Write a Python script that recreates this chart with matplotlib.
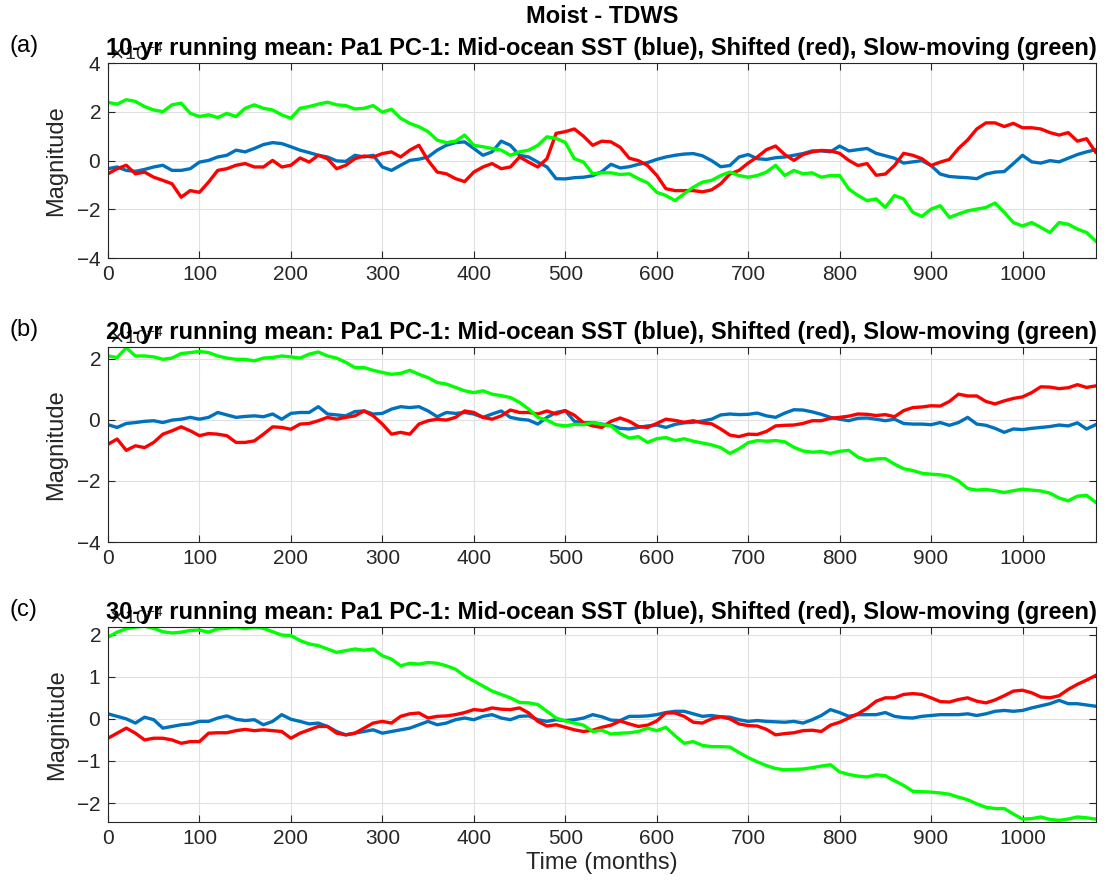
import numpy as np
import matplotlib
matplotlib.use("Agg")
import matplotlib.pyplot as plt
from matplotlib.ticker import MultipleLocator

plt.rcParams['font.family'] = ['Liberation Sans', 'DejaVu Sans']
plt.rcParams['axes.unicode_minus'] = False

# time axis (months), values read every 10 months
months = np.arange(0, 1081, 10)

# magnitudes in units of 1e-4
blue_10 = [-0.33, -0.26, -0.40, -0.44, -0.36, -0.26, -0.19, -0.40, -0.40, -0.33,
           -0.06, 0.01, 0.15, 0.22, 0.43, 0.36, 0.50, 0.66, 0.74, 0.70,
           0.57, 0.43, 0.33, 0.22, 0.15, -0.01, -0.03, 0.22, 0.15, 0.22,
           -0.26, -0.40, -0.19, 0.01, 0.06, 0.15, 0.43, 0.63, 0.74, 0.77,
           0.50, 0.22, 0.36, 0.80, 0.63, 0.22, 0.15, -0.06, -0.26, -0.74,
           -0.75, -0.70, -0.68, -0.62, -0.45, -0.15, -0.30, -0.25, -0.15, -0.08,
           0.05, 0.15, 0.22, 0.27, 0.29, 0.20, 0.00, -0.25, -0.20, 0.15,
           0.25, 0.08, 0.05, 0.12, 0.15, 0.22, 0.29, 0.40, 0.40, 0.36,
           0.60, 0.40, 0.45, 0.50, 0.30, 0.20, 0.10, -0.10, -0.05, 0.00,
           -0.20, -0.55, -0.65, -0.68, -0.70, -0.74, -0.55, -0.47, -0.45, -0.12,
           0.22, -0.05, -0.10, 0.00, -0.05, 0.10, 0.25, 0.36, 0.45]
red_10 = [-0.54, -0.33, -0.19, -0.54, -0.47, -0.68, -0.81, -0.95, -1.50, -1.23,
          -1.30, -0.88, -0.40, -0.33, -0.19, -0.12, -0.26, -0.26, 0.01, -0.26,
          -0.19, 0.11, -0.06, 0.22, 0.08, -0.33, -0.19, 0.08, 0.19, 0.15,
          0.29, 0.36, 0.15, 0.43, 0.63, 0.01, -0.47, -0.54, -0.74, -0.86,
          -0.47, -0.26, -0.12, -0.33, -0.26, 0.15, -0.06, -0.26, 0.08, 1.12,
          1.19, 1.30, 1.00, 0.63, 0.80, 0.77, 0.55, 0.10, 0.00, -0.20,
          -0.60, -1.15, -1.23, -1.23, -1.23, -1.28, -1.20, -0.95, -0.55, -0.40,
          -0.10, 0.15, 0.45, 0.60, 0.25, 0.01, 0.25, 0.36, 0.42, 0.40,
          0.30, 0.01, -0.20, -0.12, -0.60, -0.55, -0.20, 0.30, 0.22, 0.08,
          -0.20, -0.06, 0.05, 0.50, 0.85, 1.30, 1.55, 1.55, 1.40, 1.53,
          1.35, 1.35, 1.30, 1.15, 1.05, 1.15, 0.80, 0.90, 0.35]
green_10 = [2.39, 2.32, 2.50, 2.43, 2.22, 2.08, 2.01, 2.29, 2.36, 1.94,
            1.81, 1.88, 1.77, 1.94, 1.81, 2.15, 2.29, 2.15, 2.08, 1.88,
            1.74, 2.15, 2.22, 2.32, 2.40, 2.29, 2.26, 2.12, 2.15, 2.26,
            1.99, 2.11, 1.74, 1.53, 1.39, 1.19, 0.84, 0.74, 0.80, 1.05,
            0.63, 0.57, 0.50, 0.43, 0.22, 0.36, 0.43, 0.63, 0.98, 0.91,
            0.75, 0.08, -0.06, -0.54, -0.50, -0.50, -0.57, -0.54, -0.74, -0.91,
            -1.30, -1.43, -1.64, -1.36, -1.09, -0.88, -0.81, -0.61, -0.47, -0.61,
            -0.68, -0.61, -0.47, -0.19, -0.61, -0.40, -0.54, -0.50, -0.68, -0.61,
            -0.61, -1.16, -1.43, -1.64, -1.57, -1.92, -1.43, -1.57, -2.12, -2.29,
            -1.99, -1.85, -2.33, -2.19, -2.06, -1.99, -1.92, -1.74, -2.12, -2.54,
            -2.68, -2.54, -2.74, -2.95, -2.54, -2.61, -2.81, -2.95, -3.30]

blue_20 = [-0.16, -0.25, -0.12, -0.09, -0.05, -0.03, -0.09, -0.01, 0.02, 0.08,
           0.02, 0.08, 0.24, 0.16, 0.08, 0.11, 0.13, 0.10, 0.19, 0.02,
           0.21, 0.24, 0.24, 0.43, 0.19, 0.16, 0.13, 0.27, 0.29, 0.19,
           0.21, 0.35, 0.43, 0.40, 0.43, 0.29, 0.10, 0.24, 0.21, 0.24,
           0.19, 0.08, 0.19, 0.29, 0.08, 0.02, -0.01, -0.14, 0.08, 0.24,
           0.30, -0.05, -0.10, -0.09, -0.14, -0.18, -0.28, -0.30, -0.25, -0.20,
           -0.17, -0.25, -0.15, -0.10, -0.08, -0.04, 0.02, 0.16, 0.19, 0.17,
           0.18, 0.22, 0.13, 0.08, 0.22, 0.33, 0.32, 0.26, 0.18, 0.08,
           0.02, -0.03, 0.05, 0.06, 0.02, -0.03, 0.02, -0.12, -0.14, -0.14,
           -0.16, -0.09, -0.18, -0.09, 0.08, -0.14, -0.18, -0.28, -0.41, -0.30,
           -0.32, -0.28, -0.25, -0.22, -0.17, -0.20, -0.10, -0.30, -0.16]
red_20 = [-0.80, -0.63, -1.00, -0.85, -0.91, -0.74, -0.47, -0.36, -0.23, -0.36,
          -0.52, -0.45, -0.47, -0.52, -0.74, -0.74, -0.69, -0.47, -0.23, -0.25,
          -0.31, -0.14, -0.12, -0.03, 0.08, 0.02, 0.08, 0.13, 0.29, 0.13,
          -0.14, -0.47, -0.41, -0.47, -0.14, -0.03, 0.02, -0.01, 0.08, 0.29,
          0.24, 0.08, 0.02, 0.13, 0.32, 0.24, 0.24, 0.19, 0.29, 0.19,
          0.30, 0.15, -0.10, -0.20, -0.25, -0.05, 0.06, -0.05, -0.22, -0.25,
          -0.12, 0.02, -0.02, -0.08, -0.03, -0.10, -0.13, -0.30, -0.50, -0.55,
          -0.47, -0.48, -0.38, -0.20, -0.18, -0.17, -0.12, -0.03, -0.03, 0.05,
          0.08, 0.12, 0.19, 0.18, 0.14, 0.17, 0.10, 0.30, 0.40, 0.42,
          0.46, 0.45, 0.60, 0.84, 0.78, 0.78, 0.60, 0.52, 0.62, 0.70,
          0.75, 0.89, 1.08, 1.07, 1.02, 1.05, 1.15, 1.06, 1.11]
green_20 = [2.09, 2.04, 2.36, 2.09, 2.09, 2.06, 1.98, 2.02, 2.17, 2.20,
            2.24, 2.20, 2.09, 2.02, 1.98, 1.98, 1.93, 2.02, 2.04, 2.09,
            2.06, 2.02, 2.15, 2.22, 2.09, 2.02, 1.88, 1.71, 1.71, 1.62,
            1.55, 1.49, 1.52, 1.62, 1.49, 1.38, 1.22, 1.17, 1.06, 0.95,
            0.89, 0.95, 0.84, 0.79, 0.73, 0.57, 0.35, 0.08, -0.01, -0.16,
            -0.20, -0.15, -0.16, -0.09, -0.15, -0.20, -0.45, -0.60, -0.55, -0.74,
            -0.62, -0.58, -0.68, -0.62, -0.70, -0.76, -0.82, -0.91, -1.10, -0.95,
            -0.75, -0.68, -0.70, -0.68, -0.72, -0.90, -1.02, -1.06, -1.04, -1.10,
            -1.03, -1.00, -1.22, -1.33, -1.28, -1.27, -1.45, -1.60, -1.66, -1.75,
            -1.78, -1.80, -1.85, -2.00, -2.25, -2.30, -2.28, -2.32, -2.38, -2.32,
            -2.27, -2.30, -2.33, -2.40, -2.56, -2.65, -2.50, -2.47, -2.70]

blue_30 = [0.12, 0.06, 0.00, -0.10, 0.04, -0.02, -0.22, -0.18, -0.14, -0.12,
           -0.06, -0.06, 0.02, 0.07, -0.01, -0.04, -0.02, -0.14, -0.06, 0.10,
           -0.01, -0.06, -0.12, -0.10, -0.18, -0.30, -0.38, -0.34, -0.30, -0.26,
           -0.34, -0.30, -0.26, -0.22, -0.14, -0.06, -0.14, -0.10, -0.02, 0.02,
           -0.02, 0.06, 0.10, 0.02, -0.02, 0.06, 0.07, -0.02, -0.06, -0.02,
           -0.04, -0.02, 0.02, 0.10, 0.05, -0.03, -0.04, 0.06, 0.06, 0.07,
           0.10, 0.15, 0.18, 0.18, 0.12, 0.06, 0.08, 0.05, 0.04, -0.02,
           -0.06, -0.04, -0.06, -0.07, -0.08, -0.06, -0.10, -0.02, 0.08, 0.22,
           0.15, 0.06, 0.10, 0.10, 0.10, 0.15, 0.06, 0.03, 0.02, 0.06,
           0.08, 0.10, 0.10, 0.10, 0.12, 0.08, 0.12, 0.18, 0.20, 0.18,
           0.20, 0.26, 0.31, 0.36, 0.44, 0.36, 0.36, 0.33, 0.30]
red_30 = [-0.46, -0.34, -0.22, -0.34, -0.50, -0.46, -0.46, -0.50, -0.58, -0.54,
          -0.54, -0.34, -0.33, -0.33, -0.28, -0.25, -0.28, -0.26, -0.28, -0.30,
          -0.46, -0.34, -0.26, -0.18, -0.18, -0.34, -0.38, -0.34, -0.22, -0.10,
          -0.06, -0.10, 0.06, 0.12, 0.14, 0.02, 0.06, 0.07, 0.10, 0.15,
          0.22, 0.20, 0.26, 0.23, 0.22, 0.26, 0.14, -0.06, -0.17, -0.14,
          -0.20, -0.26, -0.30, -0.27, -0.20, -0.15, -0.05, -0.12, -0.18, -0.15,
          -0.05, 0.14, 0.14, 0.06, -0.08, -0.10, 0.00, 0.05, 0.00, -0.12,
          -0.16, -0.17, -0.25, -0.38, -0.35, -0.33, -0.28, -0.27, -0.30, -0.15,
          -0.08, 0.02, 0.12, 0.25, 0.42, 0.50, 0.50, 0.58, 0.60, 0.58,
          0.50, 0.41, 0.40, 0.46, 0.50, 0.42, 0.38, 0.45, 0.55, 0.66,
          0.68, 0.62, 0.52, 0.50, 0.55, 0.70, 0.82, 0.92, 1.03]
green_30 = [1.94, 2.06, 2.14, 2.18, 2.20, 2.15, 2.07, 2.04, 2.06, 2.10,
            2.11, 2.06, 2.14, 2.15, 2.18, 2.14, 2.18, 2.15, 2.07, 1.99,
            1.98, 1.86, 1.78, 1.74, 1.66, 1.58, 1.62, 1.66, 1.63, 1.66,
            1.50, 1.42, 1.26, 1.32, 1.30, 1.34, 1.32, 1.26, 1.18, 1.02,
            0.90, 0.78, 0.66, 0.58, 0.50, 0.39, 0.38, 0.34, 0.18, 0.02,
            -0.05, -0.10, -0.15, -0.30, -0.27, -0.36, -0.34, -0.33, -0.30, -0.22,
            -0.28, -0.20, -0.40, -0.58, -0.54, -0.63, -0.66, -0.66, -0.67, -0.80,
            -0.92, -1.02, -1.11, -1.18, -1.21, -1.20, -1.19, -1.16, -1.12, -1.09,
            -1.26, -1.32, -1.36, -1.38, -1.33, -1.35, -1.47, -1.58, -1.72, -1.73,
            -1.74, -1.76, -1.79, -1.86, -1.92, -2.02, -2.10, -2.13, -2.13, -2.26,
            -2.38, -2.37, -2.33, -2.39, -2.41, -2.38, -2.33, -2.35, -2.38]

SCALE = 1e-4
windows = ['10', '20', '30']
panel_tags = ['(a)', '(b)', '(c)']
series = [(blue_10, red_10, green_10), (blue_20, red_20, green_20), (blue_30, red_30, green_30)]
ylims = [(-4, 4), (-4, 2.38), (-2.45, 2.18)]
ysteps = [2, 2, 1]

fig = plt.figure(figsize=(11.11, 8.9), dpi=100)
bottoms = [0.710, 0.391, 0.0764]
for i in range(3):
    ax = fig.add_axes([0.0972, bottoms[i], 0.889, 0.219])
    b, r, g = series[i]
    ax.plot(months, np.array(b) * SCALE, color='#0072BD', lw=2.4)
    ax.plot(months, np.array(r) * SCALE, color='#FF0000', lw=2.4)
    ax.plot(months, np.array(g) * SCALE, color='#00FF00', lw=2.4)
    ax.set_xlim(0, 1080)
    ax.set_ylim(ylims[i][0] * SCALE, ylims[i][1] * SCALE)
    ax.xaxis.set_major_locator(MultipleLocator(100))
    ax.yaxis.set_major_locator(MultipleLocator(ysteps[i] * SCALE))
    ax.ticklabel_format(axis='y', style='sci', scilimits=(0, 0), useMathText=True)
    ax.yaxis.get_offset_text().set_fontsize(14)
    ax.yaxis.get_offset_text().set_color('#262626')
    ax.grid(True, color='#e0e0e0', lw=0.8)
    ax.set_axisbelow(True)
    ax.tick_params(direction='in', top=True, right=True, length=5, labelsize=15,
                   colors='#262626', width=0.8, pad=5)
    for sp in ax.spines.values():
        sp.set_color('#262626')
        sp.set_linewidth(0.8)
    ax.set_ylabel('Magnitude', fontsize=17, color='#262626', labelpad=6)
    # fixed y keeps the title on top of the exponent label, as in the original
    ax.set_title(windows[i] + '-yr running mean: Pa1 PC-1: Mid-ocean SST (blue), Shifted (red), Slow-moving (green)',
                 fontsize=17, fontweight='bold', y=1.0, pad=6)
    fig.text(0.009, bottoms[i] + 0.219 + 0.013, panel_tags[i], fontsize=17)
    if i == 2:
        ax.set_xlabel('Time (months)', fontsize=17, color='#262626', labelpad=3)

fig.text(0.0972 + 0.889 / 2, 0.981, 'Moist - TDWS', ha='center', va='center',
         fontsize=17, fontweight='bold')

fig.savefig('out.png', dpi=100)
